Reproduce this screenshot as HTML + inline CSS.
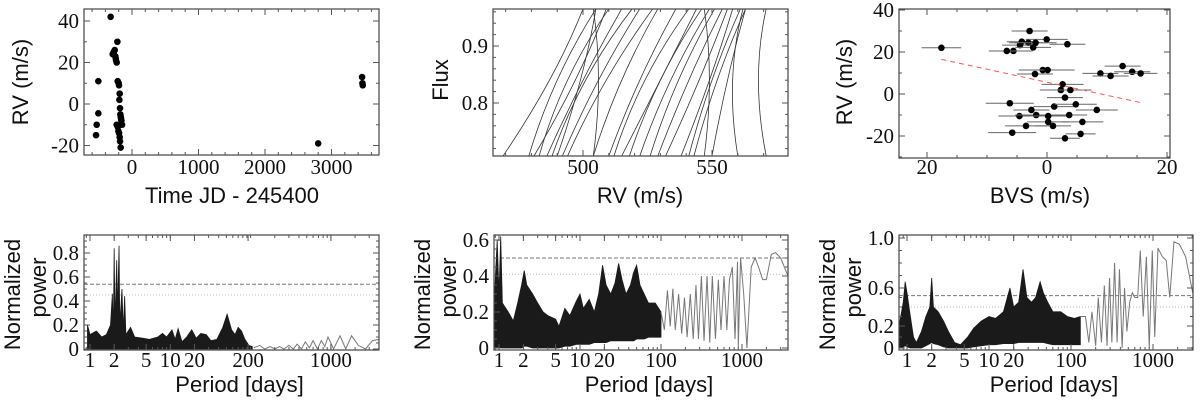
<!DOCTYPE html>
<html><head><meta charset="utf-8"><style>
html,body{margin:0;padding:0;background:#fff;}
svg{display:block;}
.tk{font-family:"Liberation Serif",serif;font-size:21px;fill:#111;}
.tt{font-family:"Liberation Sans",sans-serif;font-size:22px;fill:#111;}
</style></head><body>
<svg id="fig" width="1200" height="401" viewBox="0 0 1200 401" xmlns="http://www.w3.org/2000/svg"></svg>
<script>
// ---------- Data ----------
const timeJD=[-541,-531,-506,-506,-321,-290,-275,-260,-250,-245,-240,-230,-220,-215,-200,-195,-190,-185,-180,-175,-170,-165,-160,-150,-230,-215,-205,-195,-185,-180,-170,2800,3460,3465,3470];
const rvTime=[-15,-10,11,-4.5,42,24,25,26,23,22,21,20,30,11,10,9,2,5,-2,-5,-6,-7,-8,-10,-10,-11,-13,-14,-16,-18,-21,-19,13,10,9];
const bvs=[-17.6,-2.9,-0.05,-4.2,-3.1,-4.5,-1.9,-2.3,-5.6,-6.7,3.4,-0.7,0.1,-2,12.6,14.2,15.6,8.9,10.6,2.6,2.3,3.9,3,-6.2,1.2,4.8,-2.6,8.3,-4.6,-1.8,0.2,3.7,0.2,5.9,-3.5,1,-5.8,5.6,3];
const rvBvs=[22,30,26,24.9,24.4,23.3,24.4,22.2,20.5,20.5,23.7,11.4,11.4,9.5,13.3,10.6,9.8,9.8,8.6,4.6,1.9,1.9,-1.7,-4.4,-6,-4.9,-7.6,-7.6,-10.5,-10,-10.5,-10,-13.3,-13.3,-15.2,-15.2,-18.4,-19,-21.1];
const bvsErr=[3.3,3,3.5,2.5,3.2,3,3.5,3,3.2,3,3,4,4.5,3,3,3,2.8,3,3,3.5,3.5,3.5,3,4,3.5,3.5,3,3.5,3.5,3.5,3.5,3,3.5,3.5,3.5,3,4,2.5,2.5];
const fitSlope=-0.62, fitIntercept=5.6, fitRange=[-17.6,15.6];
const ccfBottom=[469,479,481,483,486,488,490,492,494,504,504,510,512,515,518,522,526,529,532,538,541,543,547,550,560,571];
const ccfMid=[487,490,497,494,500,501,499,506,509,506,515,522,524,530,530,534,537,541,545,549,550,552,549,556,558,568];
const ccfTop=[500,505,509,510,515,519,505,522,527,504,529,536,541,544,546,549,551,554,556,558,561,563,547,563,562,571];
const fluxLevels=[0.707,0.84,0.965];
// periodogram 1
const p1Per=[0.93,1,1.2,1.4,1.6,1.8,1.9,1.95,2.0,2.05,2.15,2.2,2.3,2.35,2.5,2.6,2.7,2.8,3.2,3.6,4.5,5.5,7,8,9,10.5,11.5,12.5,14,16,18.5,21,24,28,32,38,45,51,58,64,70,77,85,95,105];
const p1Pow=[0.2,0.12,0.15,0.1,0.12,0.2,0.46,0.1,0.84,0.2,0.74,0.3,0.86,0.2,0.5,0.15,0.44,0.12,0.18,0.1,0.09,0.08,0.1,0.13,0.1,0.16,0.08,0.17,0.06,0.1,0.16,0.09,0.13,0.12,0.07,0.08,0.18,0.29,0.16,0.12,0.18,0.15,0.08,0.03,0.02];
const p1LoPer=[110,130,150,175,200,230,260,300,340,380,430,480,540,600,680,760,840,920,1080,1300,1530,1810,2200,2700,3300,3950];
const p1LoPow=[0.01,0.03,0,0.02,0,0.02,0,0.03,0,0.04,0,0.06,0.01,0.07,0,0.07,0.02,0.1,0,0.11,0,0.11,0.03,0,0.07,0.08];
const p1Levels=[0.54,0.45];
// periodogram 2
const p2Per=[0.87,0.95,1.0,1.05,1.1,1.3,1.5,1.7,1.9,2.05,2.2,2.6,3,3.5,4,5,5.5,6.5,7.5,9,10,11,13,15,17,19,21,24,27,30,33,37,42,46,50,55,62,70,85,100];
const p2Hi=[0.25,0.6,0.3,0.62,0.25,0.2,0.15,0.25,0.35,0.43,0.35,0.3,0.25,0.2,0.18,0.16,0.12,0.22,0.18,0.26,0.3,0.22,0.27,0.2,0.3,0.46,0.35,0.3,0.36,0.47,0.38,0.3,0.35,0.42,0.46,0.35,0.3,0.25,0.25,0.2];
const p2Lo=[0,0,0.01,0,0,0,0,0,0,0.01,0.01,0,0,0,0,0,0,0.01,0.01,0.02,0.02,0.02,0.02,0.03,0.03,0.03,0.03,0.04,0.04,0.04,0.04,0.04,0.04,0.04,0.05,0.05,0.05,0.06,0.06,0.06];
const p2LoPer=[100,110,120,130,140,150,165,180,195,210,230,250,270,290,315,340,370,400,430,470,510,550,600,650,700,760,820,880,900,960,1050,1150,1300,1450,1600,1800,2000,2300,2600,3000,3700];
const p2LoPow=[0.2,0.1,0.32,0.12,0.33,0.1,0.3,0.08,0.28,0.06,0.3,0.05,0.35,0.05,0.4,0.04,0.4,0.03,0.4,0.05,0.38,0.1,0.4,0.1,0.38,0.45,0.05,0.48,0,0.5,0.3,0,0.45,0.5,0.45,0.38,0.38,0.52,0.53,0.5,0.4];
const p2Levels=[0.5,0.41];
// periodogram 3
const p3Per=[0.8,0.9,0.95,1.0,1.1,1.2,1.3,1.5,1.7,1.9,2.0,2.1,2.4,2.8,3.2,3.8,4.5,5.5,6.5,8,10,12,15,18,20,23,26,29,33,37,42,46,52,60,75,90,110,130];
const p3Hi=[0.2,0.45,0.65,0.55,0.3,0.1,0.05,0.15,0.3,0.4,0.68,0.4,0.35,0.25,0.15,0.05,0.03,0.1,0.18,0.25,0.3,0.28,0.35,0.6,0.4,0.45,0.75,0.5,0.45,0.5,0.65,0.55,0.45,0.35,0.35,0.3,0.28,0.3];
const p3Lo=[0,0.01,0.02,0.01,0,0,0,0,0.02,0.04,0.05,0.04,0.03,0.01,0,0,0,0,0.01,0.02,0.03,0.03,0.04,0.04,0.04,0.05,0.05,0.05,0.05,0.05,0.05,0.05,0.04,0.03,0.03,0.03,0.03,0.03];
const p3LoPer=[130,150,165,180,200,215,235,255,275,295,315,340,365,390,420,450,480,520,560,600,650,700,760,830,900,980,1050,1150,1300,1450,1600,1800,2100,2500,3050];
const p3LoPow=[0.3,0.3,0.05,0.35,0.02,0.5,0.05,0.62,0.02,0.68,0.05,0.8,0.05,0.75,0,0.6,0.15,0.45,0.55,0.5,0.5,0.9,0.3,0.85,0,0.9,0.1,0.92,0.85,0.82,0.5,0.97,0.95,0.85,0.55];
const p3Levels=[0.52,0.4];
const p3YTickVals=[0,0.2,0.6,1.0];
const p3YTickPx=[348,326,288,238];

// ---------- Helpers ----------
const NS='http://www.w3.org/2000/svg';
const svg=document.getElementById('fig');
function el(tag,parent){const e=document.createElementNS(NS,tag);(parent||svg).appendChild(e);return e;}
function lin(d0,d1,p0,p1){return v=>p0+(v-d0)*(p1-p0)/(d1-d0);}
function logx(p1,ppd){return v=>p1+Math.log10(v)*ppd;}
function pw(ds,ps){return v=>{let i=0;while(i<ds.length-2&&v>ds[i+1])i++;return ps[i]+(v-ds[i])*(ps[i+1]-ps[i])/(ds[i+1]-ds[i]);};}
let clipN=0;
function panel(name,x0,y0,x1,y1){
  const g=el('g');
  
  
  const cp=el('clipPath',g);cp.setAttribute('id','c'+(++clipN));
  const r=el('rect',cp);r.setAttribute('x',x0);r.setAttribute('y',y0);r.setAttribute('width',x1-x0);r.setAttribute('height',y1-y0);
  const plot=el('g',g);plot.setAttribute('clip-path','url(#c'+clipN+')');
  
  
  const frame=el('rect',g);frame.setAttribute('x',x0);frame.setAttribute('y',y0);frame.setAttribute('width',x1-x0);frame.setAttribute('height',y1-y0);
  frame.setAttribute('fill','none');frame.setAttribute('stroke','#444');frame.setAttribute('stroke-width','1.2');
  
  
  return {g,plot,x0,y0,x1,y1};
}
function tickLine(p,xa,ya,xb,yb){const l=el('line',p.g);l.setAttribute('x1',xa);l.setAttribute('y1',ya);l.setAttribute('x2',xb);l.setAttribute('y2',yb);l.setAttribute('stroke','#555');l.setAttribute('stroke-width','1');}
function xTicks(p,sx,major,labels,minor,ly){
  minor.forEach(v=>{const x=sx(v);if(x<p.x0||x>p.x1)return;tickLine(p,x,p.y1,x,p.y1-3);tickLine(p,x,p.y0,x,p.y0+3);});
  major.forEach((v,i)=>{const x=sx(v);tickLine(p,x,p.y1,x,p.y1-6);tickLine(p,x,p.y0,x,p.y0+6);
    const t=el('text',p.g);t.setAttribute('class','tk');t.setAttribute('x',x);t.setAttribute('y',ly);t.setAttribute('text-anchor','middle');t.textContent=labels[i];
    
    });
}
function yTicks(p,sy,major,labels,minor){
  minor.forEach(v=>{const y=sy(v);if(y<p.y0||y>p.y1)return;tickLine(p,p.x0,y,p.x0+3,y);tickLine(p,p.x1,y,p.x1-3,y);});
  major.forEach((v,i)=>{const y=sy(v);tickLine(p,p.x0,y,p.x0+6,y);tickLine(p,p.x1,y,p.x1-6,y);
    const t=el('text',p.g);t.setAttribute('class','tk');t.setAttribute('x',p.x0-5);t.setAttribute('y',y+7);t.setAttribute('text-anchor','end');t.textContent=labels[i];
    
    });
}
function title(p,txt,x,y,rot,name){const t=el('text',p.g);t.setAttribute('class','tt');t.setAttribute('x',x);t.setAttribute('y',y);t.setAttribute('text-anchor','middle');
  if(rot)t.setAttribute('transform','rotate(-90 '+x+' '+y+')');t.textContent=txt;
  
  }
function range(a,b,s){const r=[];for(let v=a;v<=b+1e-9;v+=s)r.push(+v.toFixed(6));return r;}
function logMinor(){const r=[];for(let k=-1;k<4;k++)for(let m=1;m<10;m++)r.push(m*Math.pow(10,k));return r;}

// ---------- Panel 1: RV vs time ----------
{const p=panel('rv-time-panel',84,9,379,155);
 const sx=lin(0,1000,132,198.5), sy=lin(0,40,104,21);
 xTicks(p,sx,[0,1000,2000,3000],['0','1000','2000','3000'],range(-600,3600,200),174);
 yTicks(p,sy,[-20,0,20,40],['-20','0','20','40'],range(-20,40,10));
 timeJD.forEach((t,i)=>{const c=el('circle',p.plot);c.setAttribute('cx',sx(t));c.setAttribute('cy',sy(rvTime[i]));c.setAttribute('r',3.3);c.setAttribute('fill','#000');
   
   });
 title(p,'Time JD - 245400',232,203,false,'x-axis-title');
 title(p,'RV (m/s)',28,82,true,'y-axis-title');
}
// ---------- Panel 2: CCF bisectors ----------
{const p=panel('bisector-panel',493,9,788,156);
 const sx=lin(500,550,583,712), sy=lin(0.8,0.9,103,46);
 xTicks(p,sx,[500,550],['500','550'],range(470,570,10),174);
 yTicks(p,sy,[0.8,0.9],['0.8','0.9'],range(0.7,0.96,0.02));
 ccfBottom.forEach((b,i)=>{const ax=sx(b),ay=sy(fluxLevels[0]),mx=sx(ccfMid[i]),my=sy(fluxLevels[1]),bx=sx(ccfTop[i]),by=sy(fluxLevels[2]);
   const cx=2*mx-(ax+bx)/2, cy=2*my-(ay+by)/2;
   const pa=el('path',p.plot);pa.setAttribute('d','M'+ax+' '+ay+' Q'+cx+' '+cy+' '+bx+' '+by);
   pa.setAttribute('fill','none');pa.setAttribute('stroke','#333');pa.setAttribute('stroke-width','0.8');
   
   });
 title(p,'RV (m/s)',640,203,false,'x-axis-title');
 title(p,'Flux',448,80,true,'y-axis-title');
}
// ---------- Panel 3: RV vs BVS ----------
{const p=panel('rv-bvs-panel',899,9,1170,158);
 const sx=lin(0,20,1047,1167), sy=lin(0,20,94,52);
 xTicks(p,sx,[-20,0,20],['20','0','20'],range(-25,20,5),174);
 yTicks(p,sy,[-20,0,20,40],['-20','0','20','40'],range(-30,40,10));
 bvs.forEach((b,i)=>{const y=sy(rvBvs[i]);
   const l=el('line',p.plot);l.setAttribute('x1',sx(b-bvsErr[i]));l.setAttribute('x2',sx(b+bvsErr[i]));l.setAttribute('y1',y);l.setAttribute('y2',y);l.setAttribute('stroke','#666');l.setAttribute('stroke-width','1');
   
   
   const c=el('circle',p.plot);c.setAttribute('cx',sx(b));c.setAttribute('cy',y);c.setAttribute('r',3.3);c.setAttribute('fill','#000');
   
   });
 const f=el('line',p.plot);f.setAttribute('x1',sx(fitRange[0]));f.setAttribute('y1',sy(fitIntercept+fitSlope*fitRange[0]));f.setAttribute('x2',sx(fitRange[1]));f.setAttribute('y2',sy(fitIntercept+fitSlope*fitRange[1]));
 f.setAttribute('stroke','#f55');f.setAttribute('stroke-dasharray','5 4');f.setAttribute('stroke-width','1');
 
 
 title(p,'BVS (m/s)',1040,203,false,'x-axis-title');
 title(p,'RV (m/s)',852,82,true,'y-axis-title');
}
// ---------- Periodograms ----------
function pgram(name,box,sx,sy,yMaj,yLab,yMin,per,hi,lo,loPer,loPow,levels,xtv,xtl){
  const p=panel(name,box[0],box[1],box[2],box[3]);
  xTicks(p,sx,xtv,xtl,logMinor(),367);
  yTicks(p,sy,yMaj,yLab,yMin);
  levels.forEach((v,i)=>{const l=el('line',p.plot);l.setAttribute('x1',p.x0);l.setAttribute('x2',p.x1);l.setAttribute('y1',sy(v));l.setAttribute('y2',sy(v));
    l.setAttribute('stroke',i?'#bbb':'#777');l.setAttribute('stroke-width','1');l.setAttribute('stroke-dasharray',i?'1 2':'4 2');
    
    });
  let pts=per.map((q,i)=>sx(q)+','+sy(hi[i]));
  for(let i=per.length-1;i>=0;i--)pts.push(sx(per[i])+','+sy(lo?lo[i]:0));
  const band=el('polygon',p.plot);band.setAttribute('points',pts.join(' '));band.setAttribute('fill','#1a1a1a');band.setAttribute('stroke','#1a1a1a');band.setAttribute('stroke-width','0.8');
  
  
  const pl=el('polyline',p.plot);pl.setAttribute('points',loPer.map((q,i)=>sx(q)+','+sy(loPow[i])).join(' '));
  pl.setAttribute('fill','none');pl.setAttribute('stroke','#777');pl.setAttribute('stroke-width','1');
  
  
  title(p,'Period [days]',(box[0]+box[2])/2+8,392,false,'x-axis-title');
  title(p,'Normalized',box[0]-64,(box[1]+box[3])/2+2,true,'y-axis-title');
  title(p,'power',box[0]-38,(box[1]+box[3])/2-5,true,'y-axis-title-2');
}
pgram('periodogram-rv',[84,235,379,350],logx(90,80.3),lin(0,0.2,349,325),[0,0.2,0.4,0.6,0.8],['0','0.2','0.4','0.6','0.8'],range(0,0.9,0.05),
  p1Per,p1Pow,null,p1LoPer,p1LoPow,p1Levels,[1,2,5,10,20,93,1000],['1','2','5','10','20','200','1000']);
pgram('periodogram-bvs',[494,235,788,350],logx(499,81),lin(0,0.6,348,240),[0,0.2,0.4,0.6],['0','0.2','0.4','0.6'],range(0,0.6,0.05),
  p2Per,p2Hi,p2Lo,p2LoPer,p2LoPow,p2Levels,[1,2,5,10,20,100,1000],['1','2','5','10','20','100','1000']);
pgram('periodogram-window',[899,235,1193,350],logx(907,82),pw(p3YTickVals,p3YTickPx),[0,0.2,0.6,1.0],['0','0.2','0.6','1.0'],range(0,1,0.1),
  p3Per,p3Hi,p3Lo,p3LoPer,p3LoPow,p3Levels,[1,2,5,10,20,100,1000],['1','2','5','10','20','100','1000']);
</script>
</body></html>
